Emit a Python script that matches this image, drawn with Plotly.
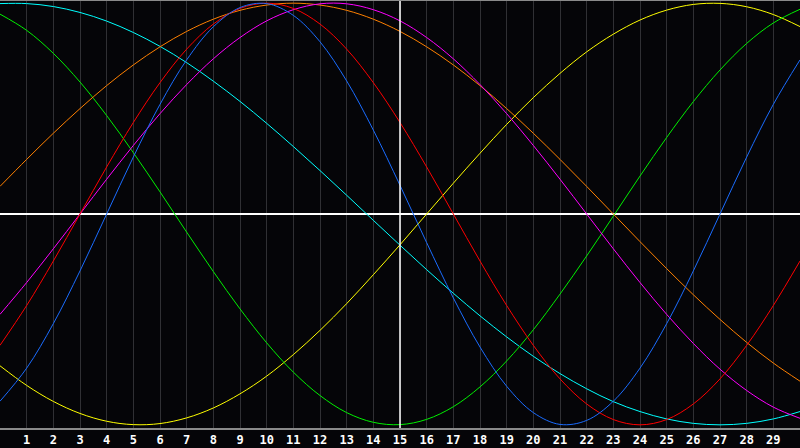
import plotly.graph_objects as go

# jours affiches sur l'axe (0 = bord gauche, 30 = bord droit)
days = list(range(0, 31))
tick_days = list(range(1, 30))
tick_labels = [str(d) for d in tick_days]

# valeurs (en %), une par jour
physique = [-88.8, -73.1, -52.0, -27.0, 0.0, 27.0, 52.0, 73.1, 88.8, 97.9, 99.8,
            94.2, 81.7, 63.1, 39.8, 13.6, -13.6, -39.8, -63.1, -81.7, -94.2,
            -99.8, -97.9, -88.8, -73.1, -52.0, -27.0, 0.0, 27.0, 52.0, 73.1]
emotion = [-62.3, -43.4, -22.3, 0.0, 22.3, 43.4, 62.3, 78.2, 90.1, 97.5, 100.0,
           97.5, 90.1, 78.2, 62.3, 43.4, 22.3, 0.0, -22.3, -43.4, -62.3,
           -78.2, -90.1, -97.5, -100.0, -97.5, -90.1, -78.2, -62.3, -43.4, -22.3]
intellect = [94.8, 87.1, 76.2, 62.6, 46.7, 29.1, 10.5, -8.6, -27.3, -45.0, -61.1,
             -75.0, -86.1, -94.2, -98.8, -99.9, -97.4, -91.4, -82.0, -69.7, -54.9,
             -38.0, -19.9, -1.0, 18.0, 36.3, 53.3, 68.3, 80.9, 90.6, 97.1]
intuition = [-47.6, -32.5, -16.5, 0.0, 16.5, 32.5, 47.6, 61.4, 73.6, 83.7, 91.6,
             96.9, 99.7, 99.7, 96.9, 91.6, 83.7, 73.6, 61.4, 47.6, 32.5,
             16.5, 0.0, -16.5, -32.5, -47.6, -61.4, -73.6, -83.7, -91.6, -96.9]
esthetique = [-72.0, -81.3, -88.9, -94.6, -98.3, -99.9, -99.4, -96.7, -92.0, -85.3, -76.9,
              -66.7, -55.2, -42.5, -28.8, -14.6, 0.0, 14.6, 28.8, 42.5, 55.2,
              66.7, 76.9, 85.3, 92.0, 96.7, 99.4, 99.9, 98.3, 94.6, 88.9]
conscience = [13.1, 25.9, 38.3, 50.0, 60.9, 70.7, 79.3, 86.6, 92.4, 96.6, 99.1,
              100.0, 99.1, 96.6, 92.4, 86.6, 79.3, 70.7, 60.9, 50.0, 38.3,
              25.9, 13.1, 0.0, -13.1, -25.9, -38.3, -50.0, -60.9, -70.7, -79.3]
spirituel = [99.8, 99.8, 98.4, 95.6, 91.5, 86.1, 79.5, 71.8, 63.0, 53.4, 43.0,
             32.0, 20.6, 8.9, -3.0, -14.8, -26.4, -37.6, -48.3, -58.3, -67.5,
             -75.7, -82.9, -89.0, -93.7, -97.2, -99.3, -100.0, -99.3, -97.2, -93.7]

courbes = [
    ("Spirituel", spirituel, "#00ffff"),
    ("Esthetique", esthetique, "#ffff00"),
    ("Intellectuel", intellect, "#00f000"),
    ("Conscience", conscience, "#ff8000"),
    ("Intuition", intuition, "#ff00ff"),
    ("Emotionnel", emotion, "#ff0000"),
    ("Physique", physique, "#1a6cff"),
]

fig = go.Figure()

for nom, valeurs, couleur in courbes:
    fig.add_trace(go.Scatter(x=days, y=valeurs, name=nom, mode="lines",
                             line=dict(color=couleur, width=1, shape="spline"),
                             hoverinfo="skip"))

# croix blanche : jour courant et ligne zero
fig.add_shape(type="line", xref="x", yref="paper", x0=15, x1=15, y0=0, y1=1,
              line=dict(color="white", width=1.5), layer="above")
fig.add_shape(type="line", xref="paper", yref="paper", x0=0, x1=1, y0=1, y1=1,
              line=dict(color="#8a8a8a", width=2))

fig.update_layout(
    width=800, height=448,
    margin=dict(l=0, r=0, t=0, b=20),
    paper_bgcolor="#050508",
    plot_bgcolor="#050508",
    showlegend=False,
)

fig.update_xaxes(
    range=[0, 30],
    tickvals=tick_days, ticktext=tick_labels,
    tickfont=dict(family="DejaVu Sans Mono", size=12, color="white", weight="bold"),
    ticks="", ticklen=0,
    showgrid=True, gridcolor="#303034", gridwidth=1,
    showline=True, linecolor="#8a8a8a", linewidth=2,
    zeroline=False, fixedrange=True,
)
fig.update_yaxes(
    range=[-101.5, 101.5],
    showticklabels=False, showgrid=False,
    zeroline=True, zerolinecolor="white", zerolinewidth=1.5,
    showline=True, linecolor="#8a8a8a", linewidth=2,
    fixedrange=True,
)

# pas de marge autour du graphique dans la page
fig.write_html("out.html", config={"displayModeBar": False},
               post_script="document.body.style.margin='0';document.body.style.background='#050508';")
